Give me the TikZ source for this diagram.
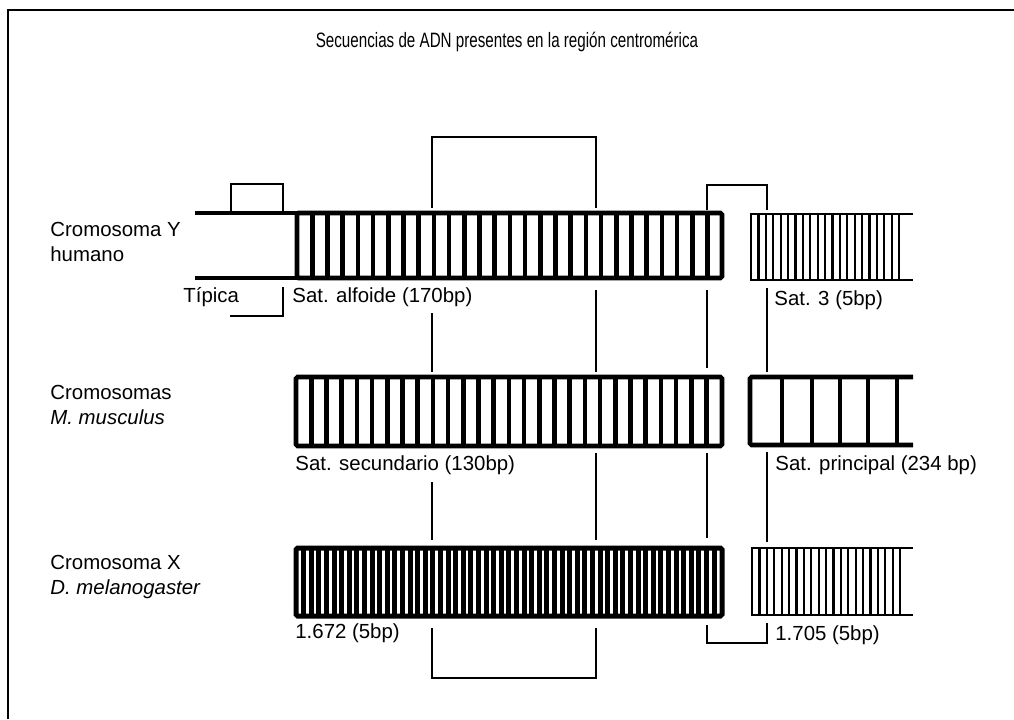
\documentclass[tikz,border=0pt]{standalone}
\usepackage{fontspec}
\setmainfont{Liberation Sans}
\newfontfamily\narrowfont[FakeStretch=0.73]{Liberation Sans}
\usetikzlibrary{positioning,calc}

\begin{document}
\begin{tikzpicture}[x=0.5pt,y=-0.5pt,
  band/.style={line width=2.3pt, rounded corners=0.8pt},
  denseband/.style={line width=2.5pt, rounded corners=0.8pt},
  fineband/.style={line width=1.1pt},
  guide/.style={line width=0.7pt},
  lbl/.style={font=\fontsize{10.2}{12.5}\selectfont, inner sep=0pt, anchor=west, align=left},
  heading/.style={font=\narrowfont\fontsize{10.4}{12}\selectfont, inner sep=0pt}]
\useasboundingbox (0,0) rectangle (1014,719);
\draw[line width=1pt] (8,719) -- (8,10) -- (1014,10);

\node[heading] (title) at (507,42) {Secuencias de ADN presentes en la región centromérica};

\node[lbl] (hum) at (50,242) {Cromosoma Y\\humano};
\node[lbl] (mus) at (50,405) {Cromosomas\\\textit{M. musculus}};
\node[lbl] (dro) at (50,577) {Cromosoma X\\\textit{D. melanogaster}};

% Y humano
\draw[band] (195,213) -- (297,213) (195,278) -- (297,278);
\draw[band] (297,213) rectangle (722,278);
\foreach \i in {1,...,27} \draw[band] ({297+\i*15.2},213) -- ++(0,65);
\draw[fineband] (913,214) -- (751,214) -- (751,280) -- (913,280);
\foreach \i in {1,...,20} \draw[fineband] ({751+\i*7.4},214) -- ++(0,66);

% M. musculus
\draw[band] (296,377) rectangle (722,446);
\foreach \i in {1,...,27} \draw[band] ({296+\i*15.2},377) -- ++(0,69);
\draw[band] (913,377) -- (750,377) -- (750,445) -- (913,445);
\foreach \x in {782,812,840,868,897} \draw[band] (\x,377) -- (\x,445);

% D. melanogaster
\draw[denseband] (296,548) rectangle (722,616);
\foreach \i in {1,...,55} \draw[denseband] ({296+\i*7.6},548) -- ++(0,68);
\draw[fineband] (913,548) -- (752,548) -- (752,615) -- (913,615);
\foreach \i in {1,...,20} \draw[fineband] ({752+\i*7.4},548) -- ++(0,67);

\node[lbl] (tip) at (183,297) {Típica};
\node[lbl] (alf) at (292,297) {Sat. alfoide (170bp)};
\node[lbl] (sat3) at (774,300) {Sat. 3 (5bp)};
\node[lbl] (sec) at (295,465) {Sat. secundario (130bp)};
\node[lbl] (pri) at (775,465) {Sat. principal (234 bp)};
\node[lbl] (s1672) at (295,633) {1.672 (5bp)};
\node[lbl] (s1705) at (775,635) {1.705 (5bp)};

% corchetes
\draw[guide] (231,211) -- (231,184) -- (283,184) -- (283,211);
\draw[guide] (283,287) -- (283,316) -- (230,316);
\draw[guide] (432,208) -- (432,137) -- (596,137) -- (596,208);
\draw[guide] (707,210) -- (707,185) -- (767,185) -- (767,210);
\draw[guide] (432,313) -- (432,372) (596,290) -- (596,372)
  (707,290) -- (707,368) (767,288) -- (767,372);
\draw[guide] (432,482) -- (432,540) (596,453) -- (596,540)
  (707,453) -- (707,538) (767,452) -- (767,542);
\draw[guide] (432,628) -- (432,678) -- (596,678) -- (596,628);
\draw[guide] (707,625) -- (707,643) -- (767,643) -- (767,623);
\end{tikzpicture}
\end{document}
